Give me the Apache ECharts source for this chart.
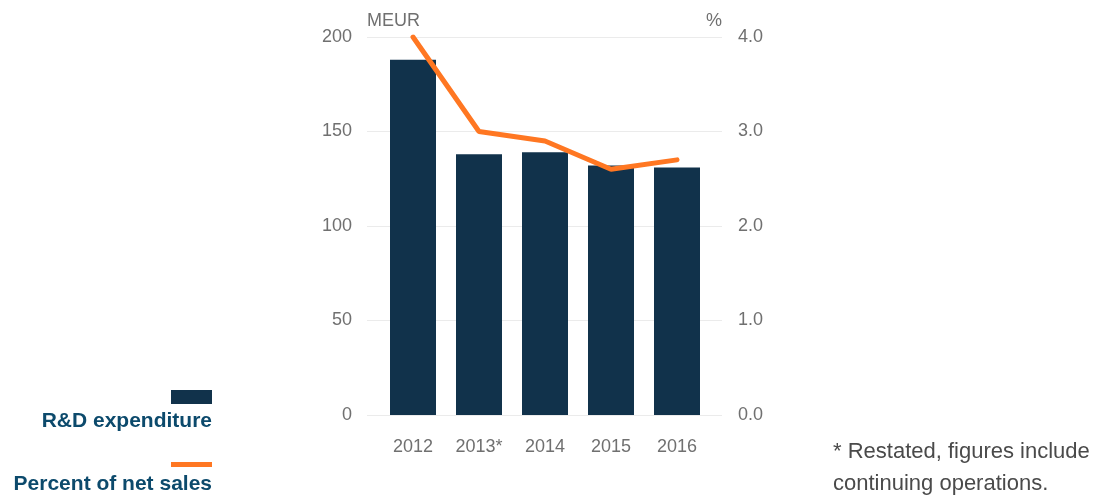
<!DOCTYPE html>
<html>
<head>
<meta charset="utf-8">
<script src="https://cdn.jsdelivr.net/npm/echarts@6/dist/echarts.min.js"></script>
<style>html,body{margin:0;padding:0;background:#fff;}#c{width:1107px;height:498px;}</style>
</head>
<body>
<div id="c"></div>
<script>
const categories = ['2012', '2013*', '2014', '2015', '2016'];
const rdExpenditure = [188, 138, 139, 132, 131];
const percentOfNetSales = [4.0, 3.0, 2.9, 2.6, 2.7];
const leftTicks = { min: 0, max: 200, interval: 50 };
const rightTicks = { min: 0, max: 4, interval: 1 };

const BAR = '#11324b', ORANGE = '#ff7722', LEG = '#0c4a6c', AX = '#707070';
const FONT = '"Liberation Sans", Arial, sans-serif';

const chart = echarts.init(document.getElementById('c'), null, { renderer: 'canvas' });
chart.setOption({
  animation: false,
  backgroundColor: '#fff',
  grid: [
    { left: 367, right: 385, top: 37, bottom: 83 },
    { left: 380, right: 397, top: 37, bottom: 83 }
  ],
  xAxis: [
    { gridIndex: 0, type: 'category', data: categories, show: false },
    { gridIndex: 1, type: 'category', data: categories,
      axisLine: { show: false }, axisTick: { show: false },
      axisLabel: { color: AX, fontSize: 18, fontFamily: FONT, margin: 23 } }
  ],
  yAxis: [
    { gridIndex: 0, type: 'value', position: 'left', min: leftTicks.min, max: leftTicks.max, interval: leftTicks.interval,
      name: 'MEUR', nameLocation: 'end', nameGap: 7,
      nameTextStyle: { color: AX, fontSize: 18, fontFamily: FONT, align: 'left' },
      axisLine: { show: false }, axisTick: { show: false },
      axisLabel: { color: AX, fontSize: 18, fontFamily: FONT, margin: 15 },
      splitLine: { lineStyle: { color: '#ebebeb', width: 1 } } },
    { gridIndex: 0, type: 'value', position: 'right', min: rightTicks.min, max: rightTicks.max, interval: rightTicks.interval,
      name: '%', nameLocation: 'end', nameGap: 7,
      nameTextStyle: { color: AX, fontSize: 18, fontFamily: FONT, align: 'right' },
      axisLine: { show: false }, axisTick: { show: false },
      axisLabel: { color: AX, fontSize: 18, fontFamily: FONT, margin: 16, formatter: v => v.toFixed(1) },
      splitLine: { show: false } },
    { gridIndex: 1, type: 'value', min: leftTicks.min, max: leftTicks.max, show: false },
    { gridIndex: 1, type: 'value', min: rightTicks.min, max: rightTicks.max, show: false }
  ],
  series: [
    { name: 'R&D expenditure', type: 'bar', xAxisIndex: 1, yAxisIndex: 2, data: rdExpenditure,
      barWidth: 46, itemStyle: { color: BAR } },
    { name: 'Percent of net sales', type: 'line', xAxisIndex: 1, yAxisIndex: 3, data: percentOfNetSales,
      showSymbol: false, symbol: 'none', lineStyle: { color: ORANGE, width: 5, cap: 'round' }, z: 5 }
  ],
  graphic: [
    { type: 'rect', shape: { x: 171, y: 390, width: 41, height: 14 }, style: { fill: BAR } },
    { type: 'text', style: { x: 212, y: 421, text: 'R&D expenditure', textAlign: 'right', textVerticalAlign: 'middle',
      font: 'bold 21px ' + FONT, fill: LEG } },
    { type: 'rect', shape: { x: 171, y: 462, width: 41, height: 5 }, style: { fill: ORANGE } },
    { type: 'text', style: { x: 212, y: 484, text: 'Percent of net sales', textAlign: 'right', textVerticalAlign: 'middle',
      font: 'bold 21px ' + FONT, fill: LEG } },
    { type: 'text', style: { x: 833, y: 452, text: '* Restated, figures include', textAlign: 'left', textVerticalAlign: 'middle',
      font: '22px ' + FONT, fill: '#4a4a4a' } },
    { type: 'text', style: { x: 833, y: 484, text: 'continuing operations.', textAlign: 'left', textVerticalAlign: 'middle',
      font: '22px ' + FONT, fill: '#4a4a4a' } }
  ]
});
</script>
</body>
</html>
